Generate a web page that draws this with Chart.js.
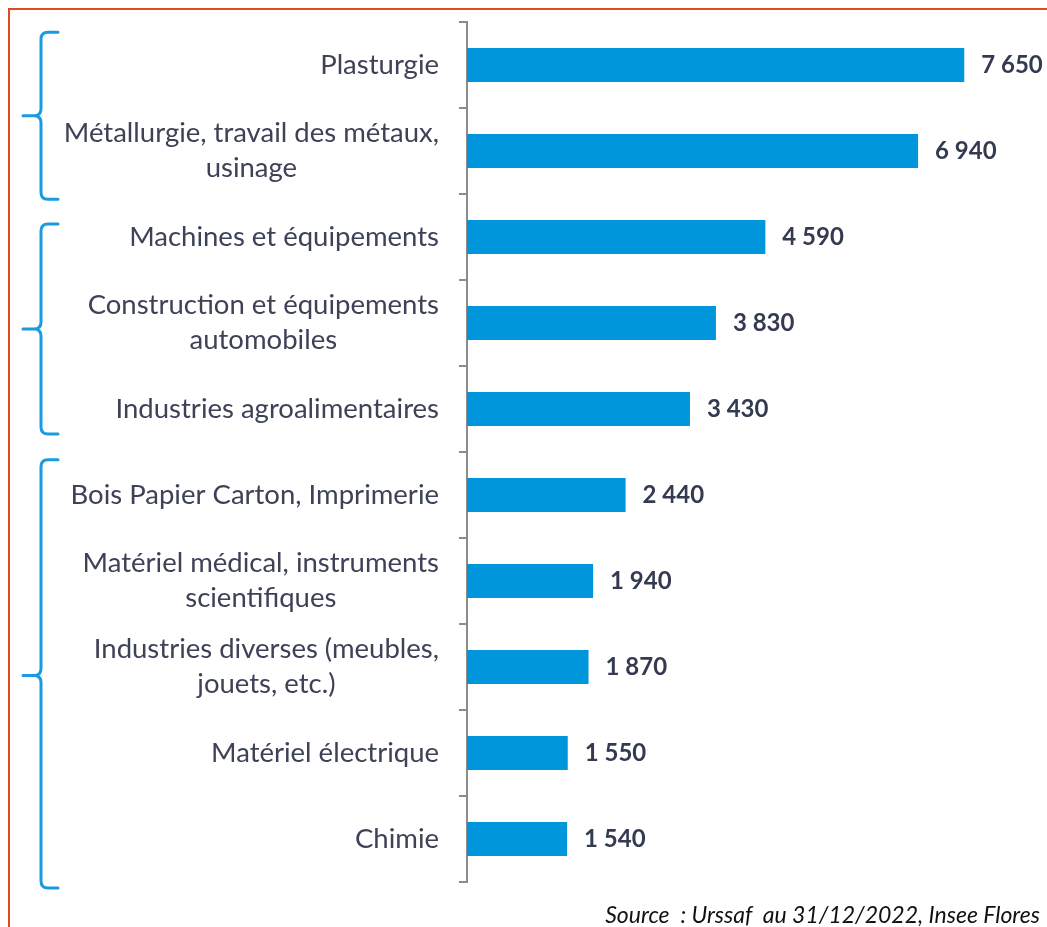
<!DOCTYPE html>
<html>
<head>
<meta charset="utf-8">
<script src="https://cdn.jsdelivr.net/npm/chart.js@4/dist/chart.umd.min.js"></script>
<style>
  html, body { margin: 0; padding: 0; background: #fff; overflow: hidden; }
  #wrap { position: relative; width: 1047px; height: 927px; }
  #frame { position: absolute; left: 8px; top: 8px; width: 1037px; height: 940px;
           border-top: 2px solid #e04a1c; border-left: 2px solid #e04a1c; pointer-events: none; }
  #source { position: absolute; right: 7px; bottom: 0px; font-family: Lato, "Open Sans", sans-serif;
            font-style: italic; font-size: 23px; color: #111; white-space: pre; line-height: 26px; }
  canvas { position: absolute; left: 0; top: 0; }
</style>
</head>
<body>
<div id="wrap">
  <canvas id="c" width="1047" height="927"></canvas>
  <div id="frame"></div>
  <div id="source">Source  : Urssaf  au 31/12/2022, Insee Flores</div>
</div>
<script>
const categories = [
  ["Plasturgie"],
  ["Métallurgie, travail des métaux,", "usinage"],
  ["Machines et équipements"],
  ["Construction et équipements", "automobiles"],
  ["Industries agroalimentaires"],
  ["Bois Papier Carton, Imprimerie"],
  ["Matériel médical, instruments", "scientifiques"],
  ["Industries diverses (meubles,", "jouets, etc.)"],
  ["Matériel électrique"],
  ["Chimie"]
];
const values = [7650, 6940, 4590, 3830, 3430, 2440, 1940, 1870, 1550, 1540];
// Brace groups (in category-index units: start, tip, end)
const groups = [
  { start: -0.38, tip: 0.59, end: 1.56 },
  { start: 1.85, tip: 3.07, end: 4.29 },
  { start: 4.59, tip: 7.10, end: 9.57 }
];

function fmt(v) { return String(v).replace(/\B(?=(\d{3})+(?!\d))/g, " "); }

const textColor = "#3d4257";
const labelFont = '27.5px Lato, "Open Sans", sans-serif';

const labelPlugin = {
  id: "customLabels",
  afterDraw(chart) {
    const ctx = chart.ctx;
    const y = chart.scales.y, x = chart.scales.x;
    ctx.save();
    ctx.font = labelFont;
    ctx.fillStyle = textColor;
    ctx.textBaseline = "middle";
    ctx.textAlign = "center";
    const rightEdge = chart.chartArea.left - 28;
    const lh = 35;
    categories.forEach((lines, i) => {
      const cy = y.getPixelForValue(i);
      const w = Math.max(...lines.map(l => ctx.measureText(l).width));
      const cx = rightEdge - w / 2;
      const y0 = cy - (lines.length - 1) * lh / 2;
      lines.forEach((l, k) => ctx.fillText(l, cx, y0 + k * lh));
    });
    ctx.font = 'bold 24px Lato, "Open Sans", sans-serif';
    ctx.fillStyle = "#343a4f";
    ctx.textAlign = "left";
    values.forEach((v, i) => {
      ctx.fillText(fmt(v), x.getPixelForValue(v) + 17, y.getPixelForValue(i));
    });
    ctx.strokeStyle = "#1a9ae0";
    ctx.lineWidth = 3;
    ctx.lineCap = "round";
    ctx.lineJoin = "round";
    const bx = 41, ex = 58, tx = 23, r = 7;
    groups.forEach(g => {
      const t = y.getPixelForValue(g.start);
      const m = y.getPixelForValue(g.tip);
      const b = y.getPixelForValue(g.end);
      ctx.beginPath();
      ctx.moveTo(ex, t);
      ctx.lineTo(bx + r, t);
      ctx.quadraticCurveTo(bx, t, bx, t + r);
      ctx.lineTo(bx, m - r);
      ctx.quadraticCurveTo(bx, m, bx - r, m);
      ctx.lineTo(tx, m);
      ctx.moveTo(bx - r, m);
      ctx.quadraticCurveTo(bx, m, bx, m + r);
      ctx.lineTo(bx, b - r);
      ctx.quadraticCurveTo(bx, b, bx + r, b);
      ctx.lineTo(ex, b);
      ctx.stroke();
    });
    ctx.restore();
  }
};

new Chart(document.getElementById("c"), {
  type: "bar",
  data: {
    labels: categories,
    datasets: [{
      data: values,
      backgroundColor: "#0096db",
      borderWidth: 0,
      barPercentage: 0.79,
      categoryPercentage: 0.5
    }]
  },
  options: {
    indexAxis: "y",
    responsive: false,
    animation: false,
    layout: { padding: { top: 22, bottom: 45, left: 0, right: 8 } },
    plugins: { legend: { display: false }, tooltip: { enabled: false } },
    scales: {
      x: { display: false, min: 0, max: 8800 },
      y: {
        afterFit(s) { s.width = 467; },
        ticks: { display: false },
        grid: { offset: true, drawOnChartArea: false, tickLength: 8, color: "#8c8c8c", lineWidth: 2 },
        border: { display: true, color: "#8c8c8c", width: 2 }
      }
    }
  },
  plugins: [labelPlugin]
});
</script>
</body>
</html>
